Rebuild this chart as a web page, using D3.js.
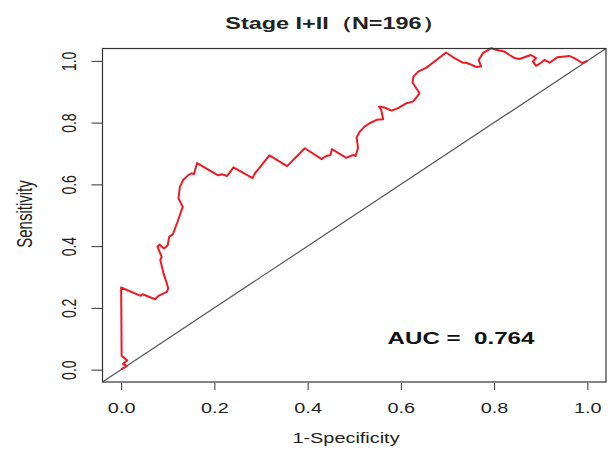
<!DOCTYPE html>
<html>
<head>
<script src="https://cdnjs.cloudflare.com/ajax/libs/d3/7.8.5/d3.min.js"></script>
<style>
  body { margin: 0; background: #fff; }
  text { font-family: "Liberation Sans", Arial, sans-serif; }
</style>
</head>
<body>
<div id="viz"></div>
<script>
// ROC points (1-specificity, sensitivity)
var fpr = [0, 0.012, 0.004, 0.013, 0.001, 0, 0.042, 0.046, 0.073, 0.080, 0.098, 0.101, 0.098, 0.091, 0.084,
  0.087, 0.081, 0.078, 0.082, 0.092, 0.100, 0.103, 0.111, 0.121, 0.132, 0.123, 0.126, 0.133, 0.144, 0.151,
  0.156, 0.163, 0.208, 0.216, 0.227, 0.241, 0.282, 0.287, 0.318, 0.356, 0.394, 0.430, 0.440, 0.449, 0.452,
  0.483, 0.492, 0.498, 0.503, 0.508, 0.505, 0.512, 0.522, 0.533, 0.548, 0.562, 0.558, 0.553, 0.565, 0.580,
  0.594, 0.612, 0.626, 0.640, 0.625, 0.627, 0.637, 0.655, 0.697, 0.715, 0.733, 0.740, 0.747, 0.762, 0.772,
  0.767, 0.776, 0.794, 0.804, 0.822, 0.833, 0.844, 0.854, 0.879, 0.890, 0.883, 0.890, 0.897, 0.908, 0.919,
  0.936, 0.961, 0.972, 0.989, 1];
var tpr = [0, 0.012, 0.018, 0.030, 0.045, 0.266, 0.239, 0.244, 0.228, 0.239, 0.252, 0.263, 0.279, 0.311, 0.355,
  0.365, 0.387, 0.398, 0.405, 0.392, 0.403, 0.430, 0.439, 0.479, 0.527, 0.555, 0.592, 0.614, 0.630, 0.636,
  0.633, 0.669, 0.629, 0.633, 0.627, 0.655, 0.620, 0.636, 0.694, 0.659, 0.717, 0.682, 0.692, 0.695, 0.714,
  0.686, 0.692, 0.695, 0.692, 0.718, 0.752, 0.771, 0.787, 0.798, 0.809, 0.811, 0.841, 0.852, 0.849, 0.839,
  0.847, 0.863, 0.868, 0.895, 0.930, 0.949, 0.965, 0.978, 1.027, 1.009, 0.994, 0.994, 0.990, 0.980, 0.982,
  1.003, 1.025, 1.041, 1.036, 1.030, 1.019, 1.009, 1.006, 1.019, 1.009, 0.998, 0.984, 0.990, 1.003, 0.994,
  1.012, 1.016, 1.009, 0.993, 1];
var xTicks = [0, 0.2, 0.4, 0.6, 0.8, 1.0];
var yTicks = [0, 0.2, 0.4, 0.6, 0.8, 1.0];
var titleText = "Stage I+II（N=196）";
var aucText = "AUC =  0.764";

var W = 609, H = 451;
var sx = 1.42; // the picture is stretched sideways

var svg = d3.select("#viz").append("svg")
  .attr("width", W).attr("height", H);

var x = d3.scaleLinear().domain([-0.04, 1.04]).range([102.5, 606]);
var y = d3.scaleLinear().domain([-0.04, 1.04]).range([382, 48.5]);

// diagonal reference line across the whole box
svg.append("line")
  .attr("x1", x(-0.04)).attr("y1", y(-0.04))
  .attr("x2", x(1.04)).attr("y2", y(1.04))
  .style("stroke", "#555").style("stroke-width", 1.2);

// roc curve
var line = d3.line().x(function(d) { return x(d[0]); }).y(function(d) { return y(d[1]); });
svg.append("path")
  .datum(fpr.map(function(v, i) { return [v, tpr[i]]; }))
  .attr("d", line)
  .style("fill", "none")
  .style("stroke", "#ee1b24")
  .style("stroke-width", 2)
  .style("stroke-linejoin", "round");

// box
svg.append("rect")
  .attr("x", x(-0.04)).attr("y", y(1.04))
  .attr("width", x(1.04) - x(-0.04)).attr("height", y(-0.04) - y(1.04))
  .style("fill", "none").style("stroke", "#333").style("stroke-width", 1.2);

// x axis
var gx = svg.append("g").attr("transform", "translate(0," + (y(-0.04) + 1) + ")")
  .call(d3.axisBottom(x).tickValues(xTicks).tickSize(7).tickFormat(d3.format(".1f")));
gx.select(".domain").remove();
gx.selectAll(".tick line").style("stroke", "#333");
gx.selectAll(".tick text")
  .attr("y", 0).attr("dy", 0)
  .attr("transform", "translate(0,30) scale(" + sx + ",1)")
  .style("font-size", "14px").style("fill", "#222");

// y axis
var gy = svg.append("g").attr("transform", "translate(" + x(-0.04) + ",0)")
  .call(d3.axisLeft(y).tickValues(yTicks).tickSize(11).tickFormat(d3.format(".1f")));
gy.select(".domain").remove();
gy.selectAll(".tick line").style("stroke", "#333");
gy.selectAll(".tick text")
  .attr("x", 0).attr("dy", 0)
  .attr("transform", "translate(-27,0) scale(" + sx + ",1) rotate(-90)")
  .style("text-anchor", "middle")
  .style("font-size", "14px").style("fill", "#222");

// axis titles
svg.append("text")
  .attr("transform", "translate(346,443) scale(" + sx + ",1)")
  .style("text-anchor", "middle").style("font-size", "14px").style("fill", "#222")
  .text("1-Specificity");
svg.append("text")
  .attr("transform", "translate(32,214) scale(" + sx + ",1) rotate(-90)")
  .style("text-anchor", "middle").style("font-size", "15px").style("fill", "#222")
  .text("Sensitivity");

// title
svg.append("text")
  .attr("transform", "translate(335,29) scale(" + sx + ",1)")
  .style("text-anchor", "middle").style("font-size", "16.5px").style("font-weight", "bold").style("fill", "#222")
  .text(titleText);

// auc label
svg.append("text")
  .attr("transform", "translate(461,344) scale(" + sx + ",1)")
  .style("text-anchor", "middle").style("font-size", "17px").style("font-weight", "bold").style("fill", "#111")
  .style("white-space", "pre")
  .text(aucText);
</script>
</body>
</html>
